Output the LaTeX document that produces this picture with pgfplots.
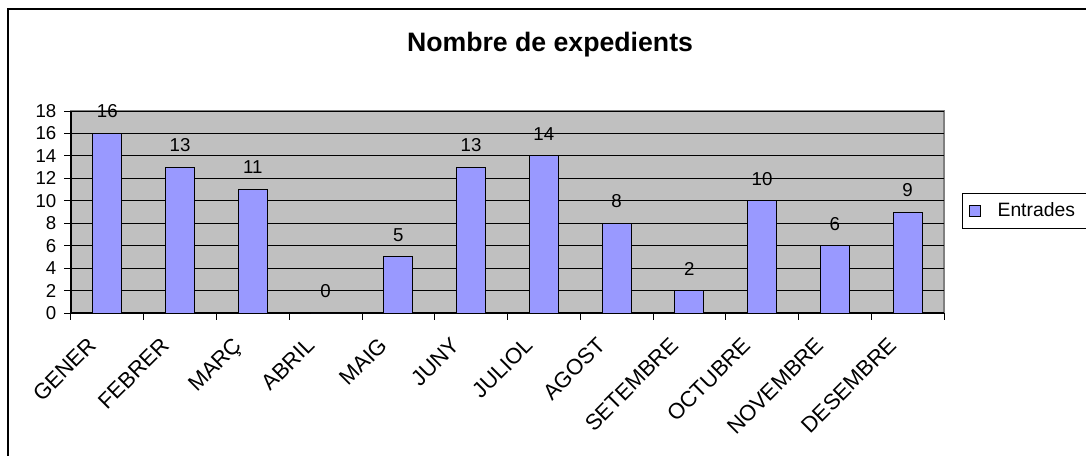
\documentclass[border=0pt]{standalone}
\usepackage{fontspec}
\setmainfont{Liberation Sans}
\usepackage{pgfplots}
\pgfplotsset{compat=1.18}
\definecolor{plotgray}{HTML}{C0C0C0}
\definecolor{barblue}{HTML}{9999FF}
\newcommand{\lblfont}{\fontsize{14}{16}\selectfont}
\newcommand{\catfont}{\fontsize{16.5}{19}\selectfont}
\begin{document}
\begin{tikzpicture}
  % page = 1086 x 455 px at 0.75pt per px
  \useasboundingbox (0,0) rectangle (814.5pt,341.25pt);
  \draw[line width=1.2pt] (6pt,-20pt) -- (6pt,334.5pt) -- (840pt,334.5pt);
  \node[font=\fontsize{20}{23}\selectfont\bfseries] at (412.5pt,308pt) {Nombre de expedients};
  \begin{axis}[
      at={(53.25pt,106.5pt)}, anchor=south west,
      scale only axis, width=654.75pt, height=151.5pt,
      xmin=-0.5, xmax=11.5, ymin=0, ymax=18,
      axis x line*=bottom, axis y line*=left,
      axis line style={line width=0.8pt},
      axis background/.style={fill=plotgray, draw=gray, line width=0.8pt},
      ytick={0,2,...,18},
      yticklabel style={xshift=-2.5pt},
      ymajorgrids, grid style={black, line width=0.75pt},
      xtick={-0.5,0.5,...,11.5}, xticklabels={},
      extra x ticks={0,1,...,11},
      extra x tick labels={GENER,FEBRER,MARÇ,ABRIL,MAIG,JUNY,JULIOL,AGOST,SETEMBRE,OCTUBRE,NOVEMBRE,DESEMBRE},
      extra x tick style={tick style={draw=none},
        tick label style={font=\catfont, inner sep=0pt, anchor=base east,
          xshift=-7.2pt, yshift=-20.3pt, rotate=45}},
      tick align=outside, major tick length=5pt,
      tick style={black, line width=0.75pt},
      tick label style={font=\lblfont},
      /pgf/number format/assume math mode=true,
      ybar, bar width=21.75pt,
      nodes near coords,
      nodes near coords style={font=\lblfont, anchor=center, yshift=16.5pt},
      legend style={at={(axis description cs:1,0.594)}, anchor=north west,
        xshift=13.5pt, draw=black, line width=0.8pt, font=\fontsize{14.5}{17}\selectfont,
        inner xsep=5pt, inner ysep=5pt},
      legend image code/.code={
        \draw[#1, line width=0.6pt] (0pt,-4pt) rectangle (8pt,4pt);
        \path[draw=none, fill=none] (0pt,0pt) -- (19pt,0pt);},
    ]
    \addplot[fill=barblue, draw=black, line width=0.75pt] coordinates {
      (0,16) (1,13) (2,11) (3,0) (4,5) (5,13)
      (6,14) (7,8) (8,2) (9,10) (10,6) (11,9)
    };
    \addlegendentry{Entrades\rule{30pt}{0pt}}
  \end{axis}
\end{tikzpicture}
\end{document}
